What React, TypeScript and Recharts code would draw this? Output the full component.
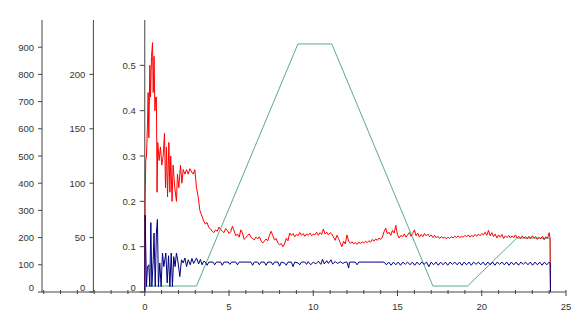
import { ComposedChart, Line, Scatter, XAxis, YAxis, ReferenceLine } from 'recharts';

type Pt = { t: number; v: number };

const toPts = (rows: number[][]): Pt[] => rows.map(([t, v]) => ({ t, v }));

// tick values
const xTicks = [-6, -5, -4, -3, -2, -1, 0, 1, 2, 3, 4, 5, 6, 7, 8, 9, 10, 11, 12, 13, 14, 15, 16, 17, 18, 19, 20, 21, 22, 23, 24, 25];
const leftTicks = [0, 100, 200, 300, 400, 500, 600, 700, 800, 900];
const midTicks = [0, 50, 100, 150, 200];
const innerTicks = [0, 0.1, 0.2, 0.3, 0.4, 0.5];

// green trace, left axis (0-1000)
const greenRows = [
  [0, 22], [3.07, 22], [9.09, 912], [11.1, 912], [17.1, 22], [19.16, 22], [22.07, 198], [24.06, 198], [24.08, 0],
];

// red trace, inner axis (0-0.6)
const redRows = [
  [0, 0], [0.02, 0.2], [0.06, 0.29], [0.1, 0.3], [0.16, 0.37], [0.2, 0.44], [0.24, 0.34], [0.3, 0.5], [0.34, 0.43],
  [0.4, 0.52], [0.46, 0.55], [0.5, 0.44], [0.55, 0.52], [0.6, 0.4], [0.65, 0.43], [0.69, 0.43], [0.73, 0.22],
  [0.77, 0.33], [0.85, 0.29], [0.93, 0.32], [1.01, 0.28], [1.09, 0.3], [1.17, 0.35], [1.23, 0.23], [1.29, 0.32],
  [1.35, 0.21], [1.43, 0.33], [1.49, 0.22], [1.54, 0.3], [1.62, 0.2], [1.68, 0.28], [1.78, 0.23], [1.88, 0.2],
  [1.94, 0.26], [2.02, 0.23], [2.12, 0.28], [2.2, 0.24], [2.28, 0.27], [2.38, 0.26], [2.48, 0.27], [2.58, 0.26],
  [2.68, 0.272], [2.78, 0.265], [2.88, 0.26], [2.97, 0.27], [3.07, 0.23], [3.17, 0.21], [3.27, 0.18], [3.37, 0.17],
  [3.5, 0.156], [3.6, 0.15], [3.7, 0.153], [3.8, 0.142], [3.9, 0.139], [4.0, 0.134], [4.1, 0.131], [4.2, 0.137],
  [4.3, 0.134], [4.4, 0.143], [4.5, 0.138], [4.6, 0.134], [4.7, 0.131], [4.8, 0.14], [4.9, 0.136], [5.0, 0.129],
  [5.1, 0.133], [5.2, 0.145], [5.3, 0.135], [5.4, 0.124], [5.5, 0.128], [5.6, 0.121], [5.7, 0.137], [5.8, 0.13],
  [5.9, 0.116], [6.0, 0.12], [6.1, 0.125], [6.2, 0.128], [6.3, 0.121], [6.4, 0.118], [6.5, 0.115], [6.6, 0.121],
  [6.7, 0.117], [6.8, 0.122], [6.9, 0.113], [7.0, 0.108], [7.1, 0.112], [7.2, 0.117], [7.3, 0.113], [7.4, 0.125],
  [7.5, 0.134], [7.6, 0.124], [7.7, 0.115], [7.8, 0.118], [7.9, 0.108], [8.0, 0.104], [8.1, 0.107], [8.2, 0.1],
  [8.3, 0.106], [8.4, 0.119], [8.5, 0.113], [8.6, 0.13], [8.7, 0.125], [8.8, 0.129], [8.9, 0.122], [9.0, 0.127],
  [9.1, 0.124], [9.2, 0.131], [9.3, 0.125], [9.4, 0.129], [9.5, 0.123], [9.6, 0.128], [9.7, 0.125], [9.8, 0.13],
  [9.9, 0.124], [10.0, 0.128], [10.1, 0.126], [10.2, 0.132], [10.3, 0.125], [10.4, 0.131], [10.5, 0.127],
  [10.6, 0.139], [10.7, 0.128], [10.8, 0.132], [10.9, 0.126], [11.0, 0.131], [11.1, 0.128], [11.2, 0.121],
  [11.3, 0.114], [11.4, 0.125], [11.5, 0.118], [11.6, 0.109], [11.7, 0.1], [11.8, 0.112], [11.9, 0.106],
  [12.0, 0.126], [12.1, 0.112], [12.2, 0.107], [12.3, 0.111], [12.4, 0.106], [12.5, 0.109], [12.6, 0.105],
  [12.7, 0.11], [12.8, 0.107], [12.9, 0.111], [13.0, 0.108], [13.1, 0.112], [13.2, 0.109], [13.3, 0.113],
  [13.4, 0.11], [13.5, 0.116], [13.6, 0.112], [13.7, 0.117], [13.8, 0.114], [13.9, 0.119], [14.0, 0.116],
  [14.1, 0.121], [14.2, 0.133], [14.3, 0.141], [14.4, 0.128], [14.5, 0.132], [14.6, 0.125], [14.7, 0.136],
  [14.8, 0.13], [14.9, 0.147], [15.0, 0.126], [15.1, 0.119], [15.2, 0.125], [15.3, 0.122], [15.4, 0.128],
  [15.5, 0.121], [15.6, 0.126], [15.7, 0.131], [15.8, 0.123], [15.9, 0.129], [16.0, 0.137], [16.1, 0.124],
  [16.2, 0.13], [16.3, 0.121], [16.4, 0.127], [16.5, 0.122], [16.6, 0.129], [16.7, 0.124], [16.8, 0.128],
  [16.9, 0.122], [17.0, 0.126], [17.1, 0.12], [17.2, 0.125], [17.3, 0.119], [17.4, 0.123], [17.5, 0.118],
  [17.6, 0.122], [17.7, 0.119], [17.8, 0.121], [17.9, 0.117], [18.0, 0.121], [18.1, 0.118], [18.2, 0.122],
  [18.3, 0.119], [18.4, 0.123], [18.5, 0.12], [18.6, 0.124], [18.7, 0.12], [18.8, 0.123], [18.9, 0.121],
  [19.0, 0.125], [19.1, 0.122], [19.2, 0.126], [19.3, 0.121], [19.4, 0.125], [19.5, 0.122], [19.6, 0.127],
  [19.7, 0.123], [19.8, 0.128], [19.9, 0.124], [20.0, 0.129], [20.1, 0.126], [20.2, 0.132], [20.3, 0.125],
  [20.4, 0.136], [20.5, 0.124], [20.6, 0.131], [20.7, 0.122], [20.8, 0.128], [20.9, 0.119], [21.0, 0.126],
  [21.1, 0.121], [21.2, 0.127], [21.3, 0.118], [21.4, 0.124], [21.5, 0.12], [21.6, 0.125], [21.7, 0.119],
  [21.8, 0.124], [21.9, 0.12], [22.0, 0.126], [22.1, 0.119], [22.2, 0.123], [22.3, 0.118], [22.4, 0.124],
  [22.5, 0.119], [22.6, 0.122], [22.7, 0.117], [22.8, 0.123], [22.9, 0.118], [23.0, 0.124], [23.1, 0.119],
  [23.2, 0.122], [23.3, 0.116], [23.4, 0.121], [23.5, 0.117], [23.6, 0.123], [23.7, 0.115], [23.8, 0.122],
  [23.9, 0.118], [24.0, 0.131], [24.05, 0.12], [24.08, 0],
];

// blue trace, inner axis (0-0.6)
const blueRows = [
  [0, 0], [0.02, 0.17], [0.1, 0.012], [0.16, 0.056], [0.24, 0.06], [0.3, 0.012], [0.36, 0.153], [0.42, 0.012],
  [0.5, 0.07], [0.55, 0.13], [0.62, 0.012], [0.69, 0.13], [0.75, 0.16], [0.81, 0.012], [0.89, 0.064], [0.97, 0.012],
  [1.05, 0.086], [1.13, 0.056], [1.25, 0.086], [1.33, 0.02], [1.41, 0.08], [1.49, 0.012], [1.57, 0.086], [1.64, 0.012],
  [1.72, 0.078], [1.8, 0.056], [1.88, 0.086], [1.98, 0.064], [2.08, 0.034], [2.18, 0.071], [2.28, 0.064], [2.38, 0.075],
  [2.48, 0.056], [2.58, 0.071], [2.7, 0.06], [2.8, 0.074], [2.9, 0.063], [3.07, 0.075], [3.2, 0.062], [3.3, 0.072],
  [3.4, 0.06], [3.5, 0.068], [3.6, 0.066], [3.7, 0.059], [3.8, 0.066], [4.05, 0.066], [4.15, 0.06], [4.25, 0.066],
  [4.5, 0.066], [4.6, 0.059], [4.7, 0.066], [4.95, 0.066], [5.05, 0.061], [5.15, 0.066], [5.4, 0.066], [5.5, 0.06],
  [5.6, 0.066], [6.3, 0.066], [6.4, 0.059], [6.5, 0.066], [6.7, 0.066], [6.8, 0.06], [6.9, 0.066], [7.1, 0.066],
  [7.2, 0.059], [7.3, 0.066], [7.5, 0.066], [7.6, 0.06], [7.7, 0.066], [7.9, 0.066], [8.0, 0.057], [8.1, 0.066],
  [8.3, 0.064], [8.4, 0.059], [8.5, 0.066], [8.7, 0.066], [8.8, 0.056], [8.9, 0.066], [9.1, 0.064], [9.2, 0.06],
  [9.3, 0.066], [9.5, 0.066], [9.6, 0.061], [9.7, 0.067], [9.85, 0.06], [10.0, 0.066], [10.15, 0.062], [10.3, 0.068],
  [10.45, 0.061], [10.55, 0.072], [10.65, 0.062], [10.8, 0.069], [10.9, 0.063], [11.05, 0.071], [11.15, 0.062],
  [11.3, 0.067], [11.45, 0.063], [11.6, 0.067], [11.75, 0.063], [11.9, 0.066], [12.0, 0.066], [12.1, 0.053],
  [12.15, 0.066], [12.5, 0.066], [12.6, 0.06], [12.7, 0.066], [14.2, 0.066], [14.34, 0.06], [14.48, 0.066],
  [14.62, 0.059], [14.76, 0.066], [14.9, 0.06], [15.04, 0.066], [15.18, 0.059], [15.32, 0.066], [15.46, 0.061],
  [15.6, 0.066], [15.74, 0.06], [15.88, 0.066], [16.02, 0.059], [16.16, 0.066], [16.3, 0.06], [16.44, 0.066],
  [16.58, 0.061], [16.72, 0.066], [16.86, 0.056], [17.0, 0.066], [17.14, 0.06], [17.28, 0.066], [17.42, 0.059],
  [17.56, 0.066], [17.7, 0.06], [17.84, 0.066], [17.98, 0.059], [18.12, 0.066], [18.26, 0.061], [18.4, 0.066],
  [18.54, 0.06], [18.68, 0.066], [18.82, 0.059], [18.96, 0.066], [19.1, 0.06], [19.24, 0.066], [19.38, 0.059],
  [19.52, 0.066], [19.66, 0.061], [19.8, 0.066], [19.94, 0.06], [20.08, 0.066], [20.22, 0.059], [20.36, 0.066],
  [20.5, 0.06], [20.64, 0.066], [20.78, 0.059], [20.92, 0.066], [21.06, 0.061], [21.2, 0.066], [21.34, 0.06],
  [21.48, 0.066], [21.62, 0.059], [21.76, 0.066], [21.9, 0.06], [22.04, 0.066], [22.18, 0.059], [22.32, 0.066],
  [22.46, 0.061], [22.6, 0.066], [22.74, 0.06], [22.88, 0.066], [23.02, 0.059], [23.16, 0.066], [23.3, 0.06],
  [23.44, 0.066], [23.58, 0.059], [23.72, 0.066], [23.86, 0.06], [24.0, 0.066], [24.06, 0.064], [24.08, 0],
];

const greenData = toPts(greenRows);
const redData = toPts(redRows);
const blueData = toPts(blueRows);

// positions of the two inner vertical axes on the time scale
const MID_AXIS_T = -3.05;
const INNER_AXIS_T = 0;
const midLabels = midTicks.map((v) => ({ t: MID_AXIS_T, v }));
const innerLabels = innerTicks.map((v) => ({ t: INNER_AXIS_T, v }));

const AXIS = '#444';
const TEXT = '#333';
const FONT = '"Liberation Sans", Arial, sans-serif';
const FS = 9.5;

const fmt = (v: number) => (Number.isInteger(v) ? String(v) : v.toFixed(1));

function XTick(props: any) {
  const { x, y, payload } = props;
  const val = payload.value as number;
  const major = val >= 0 && val % 5 === 0;
  return (
    <g>
      <line x1={x} x2={x} y1={y - 2} y2={y + (major ? 4 : 2)} stroke={AXIS} />
      {major && (
        <text x={x} y={y + 18} textAnchor="middle" fill={TEXT} fontSize={FS} fontFamily={FONT}>
          {val}
        </text>
      )}
    </g>
  );
}

function YTick(props: any) {
  const { x, y, payload } = props;
  const val = payload.value as number;
  return (
    <g>
      <line x1={x - 4} x2={x} y1={y} y2={y} stroke={AXIS} />
      <text x={x - 8} y={y + 3.5 - (val === 0 ? 5 : 0)} textAnchor="end" fill={TEXT} fontSize={FS} fontFamily={FONT}>
        {fmt(val)}
      </text>
    </g>
  );
}

const tickShape = (len: number, gap: number) => (props: any) => {
  const { cx, cy, payload } = props;
  const val = payload.v as number;
  return (
    <g>
      <line x1={cx - len} x2={cx} y1={cy} y2={cy} stroke={AXIS} />
      <text x={cx - gap} y={cy + 3.5 - (val === 0 ? 5 : 0)} textAnchor="end" fill={TEXT} fontSize={FS} fontFamily={FONT}>
        {fmt(val)}
      </text>
    </g>
  );
};

export default function App() {
  return (
    <div style={{ position: 'absolute', left: 0, top: 0, background: '#fff' }}>
      <ComposedChart width={581} height={328} margin={{ top: 20, right: 15, bottom: 0, left: 0 }}>
        <XAxis
          type="number"
          dataKey="t"
          domain={[-6.1, 25]}
          ticks={xTicks}
          interval={0}
          allowDataOverflow
          height={36}
          stroke={AXIS}
          tickSize={0}
          tickMargin={0}
          tickLine={false}
          tick={<XTick />}
        />
        <YAxis
          yAxisId="a"
          domain={[0, 1000]}
          ticks={leftTicks}
          interval={0}
          width={42}
          stroke={AXIS}
          tickSize={0}
          tickMargin={0}
          tickLine={false}
          tick={<YTick />}
        />
        <YAxis yAxisId="b" domain={[0, 250]} hide />
        <YAxis yAxisId="c" domain={[0, 0.6]} hide />
        <ReferenceLine yAxisId="a" x={MID_AXIS_T} stroke={AXIS} />
        <ReferenceLine yAxisId="a" x={INNER_AXIS_T} stroke={AXIS} />
        <Scatter yAxisId="b" data={midLabels} dataKey="v" shape={tickShape(4, 8)} isAnimationActive={false} />
        <Scatter yAxisId="c" data={innerLabels} dataKey="v" shape={tickShape(5, 9)} isAnimationActive={false} />
        <Line yAxisId="a" data={greenData} dataKey="v" stroke="#5aaa8c" strokeWidth={1} dot={false} isAnimationActive={false} />
        <Line yAxisId="c" data={redData} dataKey="v" stroke="#ff0000" strokeWidth={1} dot={false} isAnimationActive={false} />
        <Line yAxisId="c" data={blueData} dataKey="v" stroke="#000080" strokeWidth={1} dot={false} isAnimationActive={false} />
      </ComposedChart>
    </div>
  );
}
